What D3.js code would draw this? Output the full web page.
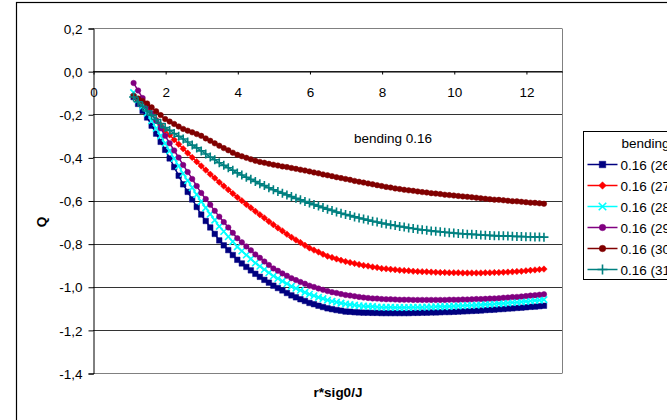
<!DOCTYPE html>
<html>
<head>
<meta charset="utf-8">
<script src="https://cdn.jsdelivr.net/npm/d3@7"></script>
<style>
  body { margin: 0; background: #fff; }
  svg text { font-family: Arial, "Liberation Sans", sans-serif; fill: #000; }
</style>
</head>
<body>
<script>
'use strict';

// sample positions r*sig0/J (same for every series)
const xValues = [
  1.125, 1.25, 1.375, 1.5, 1.625, 1.75, 1.875, 2.0, 2.125, 2.25, 2.375, 2.5,
  2.625, 2.75, 2.875, 3.0, 3.125, 3.25, 3.375, 3.5, 3.625, 3.75, 3.875, 4.0,
  4.125, 4.25, 4.375, 4.5, 4.625, 4.75, 4.875, 5.0, 5.125, 5.25, 5.375, 5.5,
  5.625, 5.75, 5.875, 6.0, 6.125, 6.25, 6.375, 6.5, 6.625, 6.75, 6.875, 7.0,
  7.125, 7.25, 7.375, 7.5, 7.625, 7.75, 7.875, 8.0, 8.125, 8.25, 8.375, 8.5,
  8.625, 8.75, 8.875, 9.0, 9.125, 9.25, 9.375, 9.5, 9.625, 9.75, 9.875, 10.0,
  10.125, 10.25, 10.375, 10.5, 10.625, 10.75, 10.875, 11.0, 11.125, 11.25, 11.375, 11.5,
  11.625, 11.75, 11.875, 12.0, 12.125, 12.25, 12.375, 12.5
];

// Q values, one array per curve
const q26 = [
  -0.12, -0.152, -0.184, -0.215, -0.253, -0.29, -0.328, -0.365, -0.405, -0.445, -0.485, -0.525,
  -0.56, -0.595, -0.63, -0.665, -0.695, -0.725, -0.755, -0.785, -0.808, -0.83, -0.853, -0.875,
  -0.892, -0.908, -0.924, -0.94, -0.954, -0.968, -0.981, -0.995, -1.006, -1.017, -1.029, -1.04,
  -1.049, -1.058, -1.066, -1.075, -1.081, -1.088, -1.094, -1.10, -1.104, -1.108, -1.111, -1.115,
  -1.116, -1.118, -1.119, -1.12, -1.12, -1.121, -1.121, -1.122, -1.122, -1.122, -1.122, -1.122,
  -1.122, -1.122, -1.121, -1.121, -1.12, -1.12, -1.119, -1.119, -1.118, -1.117, -1.117, -1.116,
  -1.115, -1.114, -1.113, -1.112, -1.111, -1.11, -1.108, -1.107, -1.106, -1.104, -1.103, -1.101,
  -1.1, -1.098, -1.097, -1.095, -1.093, -1.092, -1.09, -1.088
];
const q27 = [
  -0.11, -0.132, -0.153, -0.175, -0.20, -0.225, -0.25, -0.275, -0.296, -0.318, -0.339, -0.36,
  -0.38, -0.40, -0.42, -0.44, -0.459, -0.478, -0.496, -0.515, -0.533, -0.55, -0.568, -0.585,
  -0.601, -0.618, -0.634, -0.65, -0.666, -0.681, -0.697, -0.712, -0.727, -0.741, -0.756, -0.77,
  -0.783, -0.795, -0.808, -0.82, -0.83, -0.839, -0.849, -0.858, -0.864, -0.871, -0.877, -0.883,
  -0.888, -0.892, -0.897, -0.901, -0.904, -0.908, -0.911, -0.915, -0.917, -0.919, -0.921, -0.923,
  -0.925, -0.926, -0.928, -0.929, -0.93, -0.931, -0.932, -0.933, -0.934, -0.934, -0.935, -0.935,
  -0.935, -0.936, -0.936, -0.936, -0.936, -0.936, -0.935, -0.935, -0.934, -0.934, -0.933, -0.932,
  -0.931, -0.929, -0.928, -0.926, -0.924, -0.922, -0.92, -0.918
];
const q28 = [
  -0.10, -0.132, -0.163, -0.195, -0.23, -0.265, -0.30, -0.335, -0.37, -0.405, -0.44, -0.475,
  -0.508, -0.54, -0.573, -0.605, -0.634, -0.663, -0.691, -0.72, -0.744, -0.768, -0.791, -0.815,
  -0.834, -0.853, -0.871, -0.89, -0.905, -0.92, -0.935, -0.95, -0.962, -0.974, -0.986, -0.998,
  -1.007, -1.016, -1.026, -1.035, -1.042, -1.049, -1.055, -1.062, -1.067, -1.071, -1.076, -1.08,
  -1.083, -1.085, -1.088, -1.09, -1.091, -1.092, -1.094, -1.095, -1.095, -1.095, -1.096, -1.096,
  -1.096, -1.096, -1.095, -1.095, -1.095, -1.094, -1.094, -1.093, -1.092, -1.092, -1.091, -1.09,
  -1.089, -1.088, -1.087, -1.086, -1.085, -1.084, -1.082, -1.081, -1.08, -1.078, -1.077, -1.075,
  -1.073, -1.072, -1.07, -1.068, -1.066, -1.064, -1.062, -1.06
];
const q29 = [
  -0.055, -0.09, -0.125, -0.16, -0.195, -0.23, -0.265, -0.30, -0.334, -0.368, -0.401, -0.435,
  -0.468, -0.50, -0.533, -0.565, -0.593, -0.62, -0.648, -0.675, -0.70, -0.725, -0.75, -0.775,
  -0.794, -0.813, -0.831, -0.85, -0.866, -0.883, -0.899, -0.915, -0.926, -0.938, -0.949, -0.96,
  -0.969, -0.978, -0.986, -0.995, -1.001, -1.008, -1.014, -1.02, -1.025, -1.029, -1.034, -1.038,
  -1.041, -1.044, -1.047, -1.05, -1.052, -1.054, -1.055, -1.057, -1.058, -1.058, -1.059, -1.06,
  -1.06, -1.06, -1.061, -1.061, -1.061, -1.061, -1.061, -1.061, -1.061, -1.061, -1.06, -1.06,
  -1.06, -1.059, -1.059, -1.058, -1.057, -1.057, -1.056, -1.055, -1.054, -1.053, -1.051, -1.05,
  -1.048, -1.047, -1.045, -1.043, -1.041, -1.039, -1.037, -1.035
];
const q30 = [
  -0.115, -0.127, -0.138, -0.15, -0.168, -0.186, -0.204, -0.222, -0.234, -0.245, -0.257, -0.268,
  -0.276, -0.284, -0.292, -0.30, -0.312, -0.323, -0.335, -0.346, -0.357, -0.367, -0.378, -0.388,
  -0.395, -0.402, -0.409, -0.416, -0.421, -0.425, -0.43, -0.434, -0.438, -0.442, -0.445, -0.449,
  -0.453, -0.457, -0.461, -0.465, -0.47, -0.474, -0.479, -0.483, -0.487, -0.492, -0.496, -0.50,
  -0.504, -0.509, -0.513, -0.517, -0.521, -0.525, -0.529, -0.533, -0.537, -0.54, -0.544, -0.547,
  -0.55, -0.553, -0.555, -0.558, -0.561, -0.563, -0.566, -0.568, -0.57, -0.573, -0.575, -0.577,
  -0.579, -0.581, -0.583, -0.585, -0.587, -0.59, -0.592, -0.594, -0.596, -0.597, -0.599, -0.601,
  -0.603, -0.604, -0.606, -0.608, -0.61, -0.611, -0.613, -0.615
];
const q31 = [
  -0.12, -0.142, -0.163, -0.185, -0.204, -0.224, -0.243, -0.262, -0.275, -0.289, -0.302, -0.315,
  -0.329, -0.343, -0.356, -0.37, -0.384, -0.398, -0.411, -0.425, -0.437, -0.448, -0.46, -0.472,
  -0.482, -0.492, -0.502, -0.512, -0.522, -0.531, -0.541, -0.55, -0.558, -0.566, -0.574, -0.582,
  -0.59, -0.597, -0.605, -0.612, -0.619, -0.626, -0.633, -0.64, -0.646, -0.653, -0.659, -0.665,
  -0.67, -0.676, -0.681, -0.686, -0.691, -0.696, -0.70, -0.705, -0.709, -0.713, -0.716, -0.72,
  -0.723, -0.727, -0.73, -0.733, -0.736, -0.738, -0.741, -0.743, -0.745, -0.747, -0.749, -0.751,
  -0.753, -0.754, -0.756, -0.757, -0.758, -0.76, -0.761, -0.762, -0.763, -0.764, -0.764, -0.765,
  -0.766, -0.767, -0.767, -0.768, -0.768, -0.769, -0.769, -0.77
];

const seriesNames = ["0.16 (26)", "0.16 (27)", "0.16 (28)", "0.16 (29)", "0.16 (30)", "0.16 (31)"];
const xTicks = [0, 2, 4, 6, 8, 10, 12];
const yTicks = [0.2, 0.0, -0.2, -0.4, -0.6, -0.8, -1.0, -1.2, -1.4];

// look of each curve (Excel default palette)
const seriesStyle = [
  { color: "#000080", marker: "square" },
  { color: "#ff0000", marker: "diamond" },
  { color: "#00ffff", marker: "x" },
  { color: "#800080", marker: "circle" },
  { color: "#800000", marker: "circle" },
  { color: "#008080", marker: "plus" }
];

const width = 667, height = 420;
const plot = { left: 93, right: 562, top: 28, bottom: 373 };

const svg = d3.select("body").append("svg")
  .attr("width", width)
  .attr("height", height);

svg.append("rect").attr("width", width).attr("height", height).attr("fill", "#fff");

// chart area border (runs off the right / bottom of the picture)
svg.append("rect")
  .attr("x", 16.5).attr("y", 2.5)
  .attr("width", 700).attr("height", 500)
  .attr("fill", "none").attr("stroke", "#000").attr("stroke-width", 1.2);

const xScale = d3.scaleLinear().domain([0, 13]).range([plot.left, plot.right]);
const yScale = d3.scaleLinear().domain([-1.4, 0.2]).range([plot.bottom, plot.top]);

const fmt = d3.formatLocale({ decimal: ",", thousands: ".", grouping: [3], currency: ["", ""], minus: "-" }).format(".1f");

// gridlines
svg.append("g")
  .selectAll("line")
  .data(yTicks)
  .join("line")
    .attr("x1", plot.left).attr("x2", plot.right)
    .attr("y1", d => Math.round(yScale(d)) + 0.5)
    .attr("y2", d => Math.round(yScale(d)) + 0.5)
    .attr("stroke", d => (d === 0.2 || d === -1.4) ? "#808080" : "#333")
    .attr("stroke-width", 1);

// right edge of plot area
svg.append("line")
  .attr("x1", plot.right + 0.5).attr("x2", plot.right + 0.5)
  .attr("y1", Math.round(yScale(0.2)) + 0.5).attr("y2", Math.round(yScale(-1.4)) + 0.5)
  .attr("stroke", "#808080");

// y axis
const yAxis = d3.axisLeft(yScale)
  .tickValues(yTicks)
  .tickFormat(fmt)
  .tickSize(5)
  .tickPadding(6);
const gy = svg.append("g")
  .attr("transform", `translate(${plot.left + 0.5},0.5)`)
  .call(yAxis);
gy.select(".domain").attr("stroke", "#000");
gy.selectAll("text").style("font-size", "13.5px").attr("dy", "0.35em");

// x axis sits on Q = 0
const xAxis = d3.axisBottom(xScale)
  .tickValues(xTicks)
  .tickFormat(d3.format("d"))
  .tickSize(3)
  .tickSizeOuter(0)
  .tickPadding(13);
const gx = svg.append("g")
  .attr("transform", `translate(0.5,${Math.round(yScale(0)) + 0.5})`)
  .call(xAxis);
gx.select(".domain").attr("stroke", "#000");
gx.selectAll("text").style("font-size", "13.5px");

// marker shapes
function markerPath(type, s) {
  const h = s / 2;
  if (type === "square") return `M${-h},${-h}h${s}v${s}h${-s}Z`;
  if (type === "diamond") return `M0,${-h}L${h},0L0,${h}L${-h},0Z`;
  if (type === "circle") return d3.symbol(d3.symbolCircle, Math.PI * h * h)();
  if (type === "x") return `M${-h},${-h}L${h},${h}M${-h},${h}L${h},${-h}`;
  if (type === "plus") return `M0,${-h}V${h}M${-h},0H${h}`;
}
function markerSize(type) {
  return { square: 5.5, diamond: 6.5, circle: 5.5, x: 6.5, plus: 9 }[type];
}
function drawMarker(sel, style, size) {
  const filled = style.marker === "square" || style.marker === "diamond" || style.marker === "circle";
  sel.attr("d", markerPath(style.marker, size))
    .attr("fill", filled ? style.color : "none")
    .attr("stroke", style.color)
    .attr("stroke-width", filled ? 0.5 : 1.6);
}

const seriesData = [q26, q27, q28, q29, q30, q31].map(vals =>
  xValues.map((x, i) => ({ x: x, q: vals[i] }))
);

const line = d3.line()
  .curve(d3.curveMonotoneX)
  .x(d => xScale(d.x))
  .y(d => yScale(d.q));

seriesData.forEach((rows, k) => {
  const style = seriesStyle[k];
  const g = svg.append("g");
  g.append("path")
    .datum(rows)
    .attr("d", line)
    .attr("fill", "none")
    .attr("stroke", style.color)
    .attr("stroke-width", 1.5);
  g.selectAll("path.mk")
    .data(rows)
    .join("path")
      .attr("class", "mk")
      .attr("transform", d => `translate(${xScale(d.x)},${yScale(d.q)})`)
      .call(drawMarker, style, markerSize(style.marker));
});

// annotation
svg.append("text")
  .attr("x", 354).attr("y", 143)
  .style("font-size", "13.5px")
  .text("bending 0.16");

// axis titles
svg.append("text")
  .attr("x", 338).attr("y", 397)
  .attr("text-anchor", "middle")
  .style("font-size", "13.5px")
  .style("font-weight", "bold")
  .text("r*sig0/J");

svg.append("text")
  .attr("transform", "translate(46,222) rotate(-90)")
  .attr("text-anchor", "middle")
  .style("font-size", "13.5px")
  .style("font-weight", "bold")
  .text("Q");

// legend (cut by the right edge of the picture, as in the original)
const legend = svg.append("g").attr("transform", "translate(583.5,131.5)");
legend.append("rect")
  .attr("width", 120).attr("height", 148)
  .attr("fill", "#fff").attr("stroke", "#000");
legend.append("text")
  .attr("x", 38).attr("y", 16)
  .style("font-size", "13.5px")
  .text("bending");
seriesNames.forEach((name, k) => {
  const style = seriesStyle[k];
  const cy = 33 + k * 21;
  legend.append("line")
    .attr("x1", 4).attr("x2", 34)
    .attr("y1", cy).attr("y2", cy)
    .attr("stroke", style.color).attr("stroke-width", 1.5);
  legend.append("path")
    .attr("transform", `translate(19,${cy})`)
    .call(drawMarker, style, markerSize(style.marker) + 1);
  legend.append("text")
    .attr("x", 37).attr("y", cy + 5)
    .style("font-size", "13.5px")
    .text(name);
});
</script>
</body>
</html>
